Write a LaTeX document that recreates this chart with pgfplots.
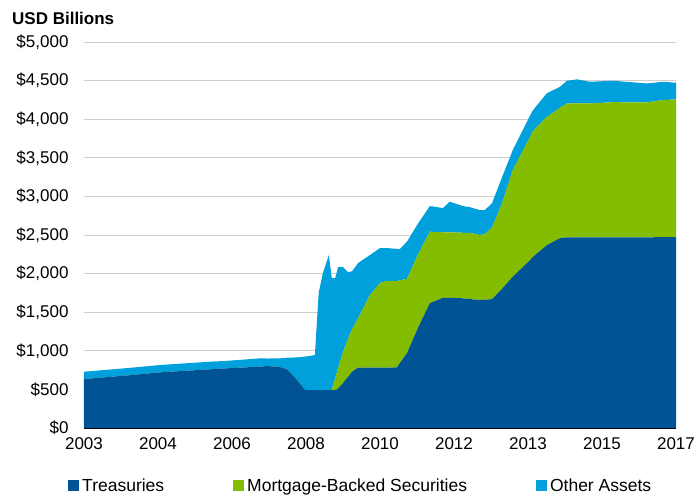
\documentclass[border=0pt]{standalone}
\usepackage{fontspec}
\setmainfont{Liberation Sans}
\usepackage{pgfplots}
\usepackage{pgfplotstable}
\pgfplotsset{compat=1.18}
\definecolor{tre}{RGB}{0,84,150}
\definecolor{mbs}{RGB}{132,189,0}
\definecolor{oth}{RGB}{0,160,220}
\definecolor{gridc}{RGB}{205,205,205}

% Fed balance sheet, USD billions
\pgfplotstableread{
year    tre   mbs   oth
2003.00 634   0     95
2004.00 680   0     95
2004.80 721   0     95
2005.98 760   0     99
2006.38 773   0     97
2007.16 795   0     107
2007.33 803   0     97
2007.63 790   0     112
2007.80 760   0     150
2008.04 622   0     293
2008.23 492   0     433
2008.46 492   0     453
2008.55 492   0     1258
2008.65 492   0     1518
2008.79 492   0     1748
2008.86 492   3     1447
2008.94 492   148   1302
2009.01 510   270   1305
2009.12 580   391   1114
2009.24 660   490   870
2009.34 730   550   750
2009.48 781   639   716
2009.76 781   939   520
2010.00 781   1099  451
2010.16 781   1123  427
2010.40 785   1119  416
2010.47 842   1070  406
2010.64 971   963   481
2010.90 1300  950   400
2011.18 1619  924   332
2011.49 1687  848   314
2011.65 1687  848   396
2011.96 1680  849   346
2012.13 1670  859   331
2012.36 1658  842   323
2012.48 1660  850   313
2012.65 1670  930   314
2012.88 1800  1100  340
2013.14 1960  1381  259
2013.55 2176  1596  278
2013.62 2219  1631  268
2013.95 2370  1661  307
2014.26 2460  1690  270
2014.42 2470  1734  294
2014.66 2470  1734  312
2014.96 2470  1734  281
2015.51 2470  1750  278
2016.31 2470  1748  245
2016.69 2472  1776  237
2017.00 2473  1783  216
}\assets

\begin{document}
\begin{tikzpicture}
\useasboundingbox (0,0) rectangle (694pt,496pt);
\begin{axis}[
    at={(84pt,68pt)}, anchor=south west,
    scale only axis,
    width=592pt, height=386pt,
    xmin=2003, xmax=2017,
    ymin=0, ymax=5000,
    stack plots=y,
    area legend,
    axis on top=false,
    axis x line*=bottom,
    axis y line*=left,
    x axis line style={draw=none},
    y axis line style={draw=none},
    major tick length=0pt,
    ymajorgrids,
    grid style={gridc, line width=0.9pt},
    ytick={0,500,...,5000},
    yticklabels={\$0,\$500,{\$1,000},{\$1,500},{\$2,000},{\$2,500},{\$3,000},{\$3,500},{\$4,000},{\$4,500},{\$5,000}},
    xtick={2003,2004.75,2006.5,2008.25,2010,2011.75,2013.5,2015.25,2017},
    xticklabels={2003,2004,2006,2008,2010,2012,2013,2015,2017},
    tick label style={font=\fontsize{17}{20}\selectfont},
    yticklabel style={xshift=-12pt},
    xticklabel style={yshift=-6pt},
    legend columns=3,
    legend style={at={(-0.027,-0.150)}, anchor=west, draw=none, inner xsep=0pt,
        font=\fontsize{17.5}{20}\selectfont,
        nodes={inner xsep=3pt},
        /tikz/every even column/.append style={column sep=66pt},
        /tikz/every odd column/.append style={column sep=0pt}},
    legend image code/.code={\fill[#1] (0pt,-5pt) rectangle (11pt,6pt);},
]
\addplot[fill=tre, draw=none, mark=none] table[x=year, y=tre] {\assets} \closedcycle;
\addplot[fill=mbs, draw=none, mark=none] table[x=year, y=mbs] {\assets} \closedcycle;
\addplot[fill=oth, draw=none, mark=none] table[x=year, y=oth] {\assets} \closedcycle;
\legend{Treasuries, Mortgage-Backed Securities, Other Assets}
\draw[black, line width=1.6pt] (axis cs:2003,0) -- (axis cs:2017,0);
\end{axis}
\node[anchor=base west, font=\bfseries\fontsize{17}{20}\selectfont, inner sep=0pt] at (12pt,471pt) {USD Billions};
\end{tikzpicture}
\end{document}
